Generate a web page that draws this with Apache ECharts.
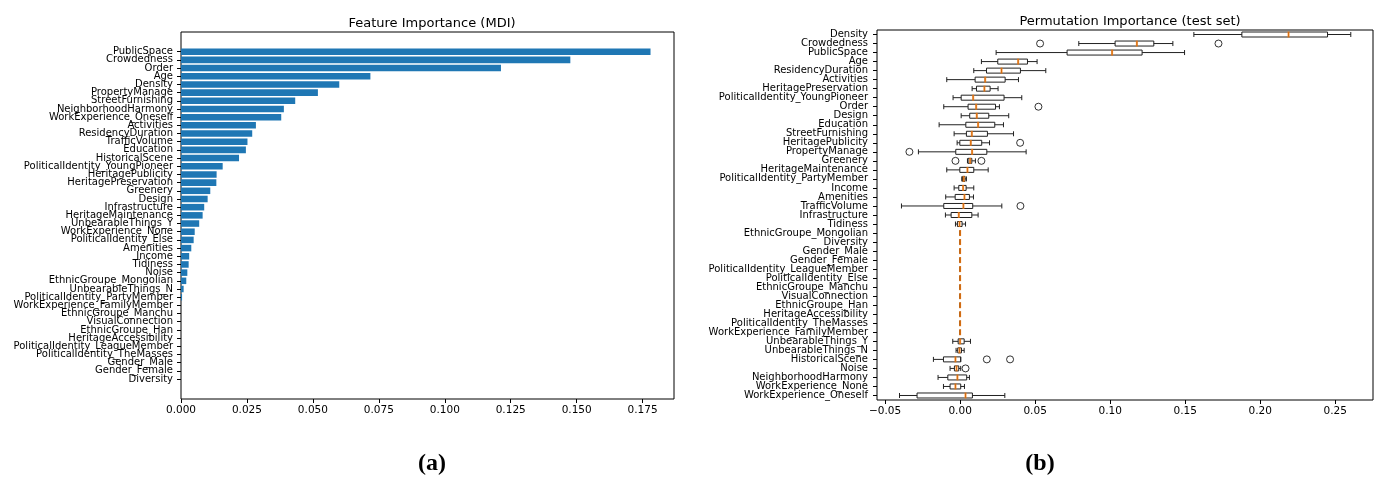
<!DOCTYPE html>
<html>
<head>
<meta charset="utf-8">
<title>Feature importance</title>
<script src="https://cdn.jsdelivr.net/npm/echarts@6/dist/echarts.min.js"></script>
<style>
  html, body { margin: 0; padding: 0; background: #fff; }
  #chart { width: 1381px; height: 477px; }
</style>
</head>
<body>
<div id="chart"></div>
<script>
// (a) impurity based importance, top to bottom
var mdiNames = ['PublicSpace', 'Crowdedness', 'Order', 'Age', 'Density', 'PropertyManage',
  'StreetFurnishing', 'NeighborhoodHarmony', 'WorkExperience_Oneself', 'Activities',
  'ResidencyDuration', 'TrafficVolume', 'Education', 'HistoricalScene',
  'PoliticalIdentity_YoungPioneer', 'HeritagePublicity', 'HeritagePreservation', 'Greenery',
  'Design', 'Infrastructure', 'HeritageMaintenance', 'UnbearableThings_Y',
  'WorkExperience_None', 'PoliticalIdentity_Else', 'Amenities', 'Income', 'Tidiness', 'Noise',
  'EthnicGroupe_Mongolian', 'UnbearableThings_N', 'PoliticalIdentity_PartyMember',
  'WorkExperience_FamilyMember', 'EthnicGroupe_Manchu', 'VisualConnection', 'EthnicGroupe_Han',
  'HeritageAccessibility', 'PoliticalIdentity_LeagueMember', 'PoliticalIdentity_TheMasses',
  'Gender_Male', 'Gender_Female', 'Diversity'];
var mdiValues = [0.1780, 0.1476, 0.1213, 0.0718, 0.0600, 0.0519,
  0.0433, 0.0390, 0.0380, 0.0284,
  0.0270, 0.0252, 0.0246, 0.0220,
  0.0158, 0.0135, 0.0134, 0.0111,
  0.0101, 0.0088, 0.0082, 0.0069,
  0.0052, 0.0048, 0.0039, 0.0031, 0.0029, 0.0024,
  0.0020, 0.0010, 0.0004,
  0, 0, 0, 0,
  0, 0, 0,
  0, 0, 0];
var mdiTicks = [0, 0.025, 0.05, 0.075, 0.1, 0.125, 0.15, 0.175];

// (b) permutation importance boxes, top to bottom
var permNames = ['Density', 'Crowdedness', 'PublicSpace', 'Age', 'ResidencyDuration', 'Activities',
  'HeritagePreservation', 'PoliticalIdentity_YoungPioneer', 'Order', 'Design', 'Education',
  'StreetFurnishing', 'HeritagePublicity', 'PropertyManage', 'Greenery', 'HeritageMaintenance',
  'PoliticalIdentity_PartyMember', 'Income', 'Amenities', 'TrafficVolume', 'Infrastructure',
  'Tidiness', 'EthnicGroupe_Mongolian', 'Diversity', 'Gender_Male', 'Gender_Female',
  'PoliticalIdentity_LeagueMember', 'PoliticalIdentity_Else', 'EthnicGroupe_Manchu',
  'VisualConnection', 'EthnicGroupe_Han', 'HeritageAccessibility', 'PoliticalIdentity_TheMasses',
  'WorkExperience_FamilyMember', 'UnbearableThings_Y', 'UnbearableThings_N', 'HistoricalScene',
  'Noise', 'NeighborhoodHarmony', 'WorkExperience_None', 'WorkExperience_Oneself'];
var permLow = [0.1558, 0.0791, 0.0240, 0.0142, 0.0091, -0.0089, 0.0080, -0.0047, -0.0109, 0.0007, -0.0140,
  -0.0040, -0.0020, -0.0278, 0.0049, -0.0089, 0.0011, -0.0040, -0.0096, -0.0391, -0.0098,
  -0.0031, 0, 0, 0, 0, 0, 0, 0, 0, 0, 0, 0, 0,
  -0.0049, -0.0027, -0.0178, -0.0067, -0.0147, -0.0111, -0.0404];
var permQ1 = [0.1878, 0.1033, 0.0713, 0.0251, 0.0176, 0.0100, 0.0109, 0.0007, 0.0053, 0.0064, 0.0038,
  0.0042, -0.0002, -0.0029, 0.0053, -0.0002, 0.0016, -0.0009, -0.0033, -0.0109, -0.0060,
  -0.0018, 0, 0, 0, 0, 0, 0, 0, 0, 0, 0, 0, 0,
  -0.0013, -0.0016, -0.0111, -0.0038, -0.0082, -0.0067, -0.0287];
var permMedian = [0.2189, 0.1178, 0.1013, 0.0387, 0.0276, 0.0167, 0.0162, 0.0087, 0.0107, 0.0111, 0.0120,
  0.0078, 0.0071, 0.0080, 0.0067, 0.0049, 0.0024, 0.0020, 0.0029, 0.0022, -0.0009,
  -0.0004, 0, 0, 0, 0, 0, 0, 0, 0, 0, 0, 0, 0,
  0.0000, -0.0004, -0.0031, -0.0024, -0.0018, -0.0031, 0.0036];
var permQ3 = [0.2449, 0.1291, 0.1213, 0.0449, 0.0402, 0.0300, 0.0200, 0.0293, 0.0236, 0.0191, 0.0231,
  0.0182, 0.0144, 0.0178, 0.0078, 0.0091, 0.0033, 0.0040, 0.0062, 0.0084, 0.0078,
  0.0013, 0, 0, 0, 0, 0, 0, 0, 0, 0, 0, 0, 0,
  0.0027, 0.0009, 0.0004, -0.0009, 0.0044, 0.0004, 0.0082];
var permHigh = [0.2604, 0.1418, 0.1496, 0.0513, 0.0571, 0.0389, 0.0253, 0.0411, 0.0262, 0.0324, 0.0289,
  0.0356, 0.0196, 0.0440, 0.0102, 0.0187, 0.0042, 0.0091, 0.0089, 0.0278, 0.0120,
  0.0036, 0, 0, 0, 0, 0, 0, 0, 0, 0, 0, 0, 0,
  0.0069, 0.0027, 0.0004, 0.0004, 0.0062, 0.0029, 0.0298];
var permOutliers = [
  ['Crowdedness', 0.0533], ['Crowdedness', 0.1722], ['Order', 0.0522],
  ['HeritagePublicity', 0.0400], ['PropertyManage', -0.0338], ['Greenery', -0.0031],
  ['Greenery', 0.0142], ['TrafficVolume', 0.0402], ['HistoricalScene', 0.0178],
  ['HistoricalScene', 0.0333], ['Noise', 0.0036]];
var permTicks = [-0.05, 0, 0.05, 0.1, 0.15, 0.2, 0.25];

var font = 'DejaVu Sans';
var ink = '#000';

var boxData = permNames.map(function (n, i) {
  return [permLow[i], permQ1[i], permMedian[i], permQ3[i], permHigh[i]];
});
var medianData = permNames.map(function (n, i) { return [permMedian[i], n]; });
var outlierData = permOutliers.map(function (o) { return [o[1], o[0]]; });

function fmtPerm(v) {
  var s = Math.abs(v).toFixed(2);
  return v < -1e-9 ? '\u2212' + s : s;
}

var titleStyle = { fontFamily: font, fontSize: 13, fontWeight: 'normal', color: ink };
var panelRich = {
  p: { fontFamily: 'Liberation Serif', fontSize: 24, color: ink },
  b: { fontFamily: 'Liberation Serif', fontSize: 24, fontWeight: 'bold', color: ink }
};

var chart = echarts.init(document.getElementById('chart'));
var option = {
  animation: false,
  title: [{
    text: 'Feature Importance (MDI)',
    left: 427, top: 12, textAlign: 'center', textStyle: titleStyle
  }, {
    text: 'Permutation Importance (test set)',
    left: 1125, top: 10, textAlign: 'center', textStyle: titleStyle
  }, {
    text: '{p|(}{b|a}{p|)}',
    left: 427, top: 447, textAlign: 'center', textStyle: { rich: panelRich }
  }, {
    text: '{p|(}{b|b}{p|)}',
    left: 1035, top: 447, textAlign: 'center', textStyle: { rich: panelRich }
  }],
  grid: [
    // frame of (a)
    { left: 181, top: 32, width: 493, height: 367, show: true, borderColor: ink, borderWidth: 1, backgroundColor: 'transparent' },
    // bars of (a), inset like matplotlib's margins
    { left: 181, top: 47.6, width: 493, height: 335.5 },
    // (b)
    { left: 877, top: 30, width: 496, height: 370, show: true, borderColor: ink, borderWidth: 1, backgroundColor: 'transparent' }
  ],
  xAxis: [{
    gridIndex: 0, type: 'value', show: false, min: 0, max: 1
  }, {
    gridIndex: 1, type: 'value', min: 0, max: 0.1869, offset: 15.9,
    axisLine: { show: false, onZero: false },
    axisTick: { show: true, length: 4, customValues: mdiTicks, lineStyle: { color: ink } },
    axisLabel: { customValues: mdiTicks, margin: 6, fontFamily: font, fontSize: 10.5, color: ink,
      formatter: function (v) { return v.toFixed(3); } },
    splitLine: { show: false }
  }, {
    gridIndex: 2, type: 'value', min: -0.0554, max: 0.2752,
    axisLine: { show: false, onZero: false },
    axisTick: { show: true, length: 4, customValues: permTicks, lineStyle: { color: ink } },
    axisLabel: { customValues: permTicks, margin: 6, fontFamily: font, fontSize: 10.5, color: ink,
      formatter: fmtPerm },
    splitLine: { show: false }
  }],
  yAxis: [{
    gridIndex: 0, type: 'value', show: false, min: 0, max: 1
  }, {
    gridIndex: 1, type: 'category', data: mdiNames, inverse: true,
    axisLine: { show: false, onZero: false },
    axisTick: { show: true, length: 4, alignWithLabel: true, lineStyle: { color: ink } },
    axisLabel: { margin: 8, fontFamily: font, fontSize: 10, color: ink, interval: 0 }
  }, {
    gridIndex: 2, type: 'category', data: permNames, inverse: true,
    axisLine: { show: false, onZero: false },
    axisTick: { show: true, length: 4, alignWithLabel: true, lineStyle: { color: ink } },
    axisLabel: { margin: 9, fontFamily: font, fontSize: 10, color: ink, interval: 0 }
  }],
  series: [{
    /* mdi bars */
    type: 'bar', xAxisIndex: 1, yAxisIndex: 1,
    data: mdiValues, barWidth: '80%',
    itemStyle: { color: '#1f77b4' }
  }, {
    /* permutation boxes */
    type: 'boxplot', xAxisIndex: 2, yAxisIndex: 2,
    data: boxData, boxWidth: [5, 5],
    itemStyle: { color: '#fff', borderColor: '#222', borderWidth: 1 }
  }, {
    /* medians */
    type: 'scatter', xAxisIndex: 2, yAxisIndex: 2, z: 5,
    data: medianData, symbol: 'rect', symbolSize: [2, 6],
    itemStyle: { color: '#ff7f0e' }
  }, {
    /* outliers */
    type: 'scatter', xAxisIndex: 2, yAxisIndex: 2,
    data: outlierData, symbol: 'circle', symbolSize: 7,
    itemStyle: { color: 'rgba(0,0,0,0)', borderColor: ink, borderWidth: 1 }
  }]
};
chart.setOption(option);
</script>
</body>
</html>
